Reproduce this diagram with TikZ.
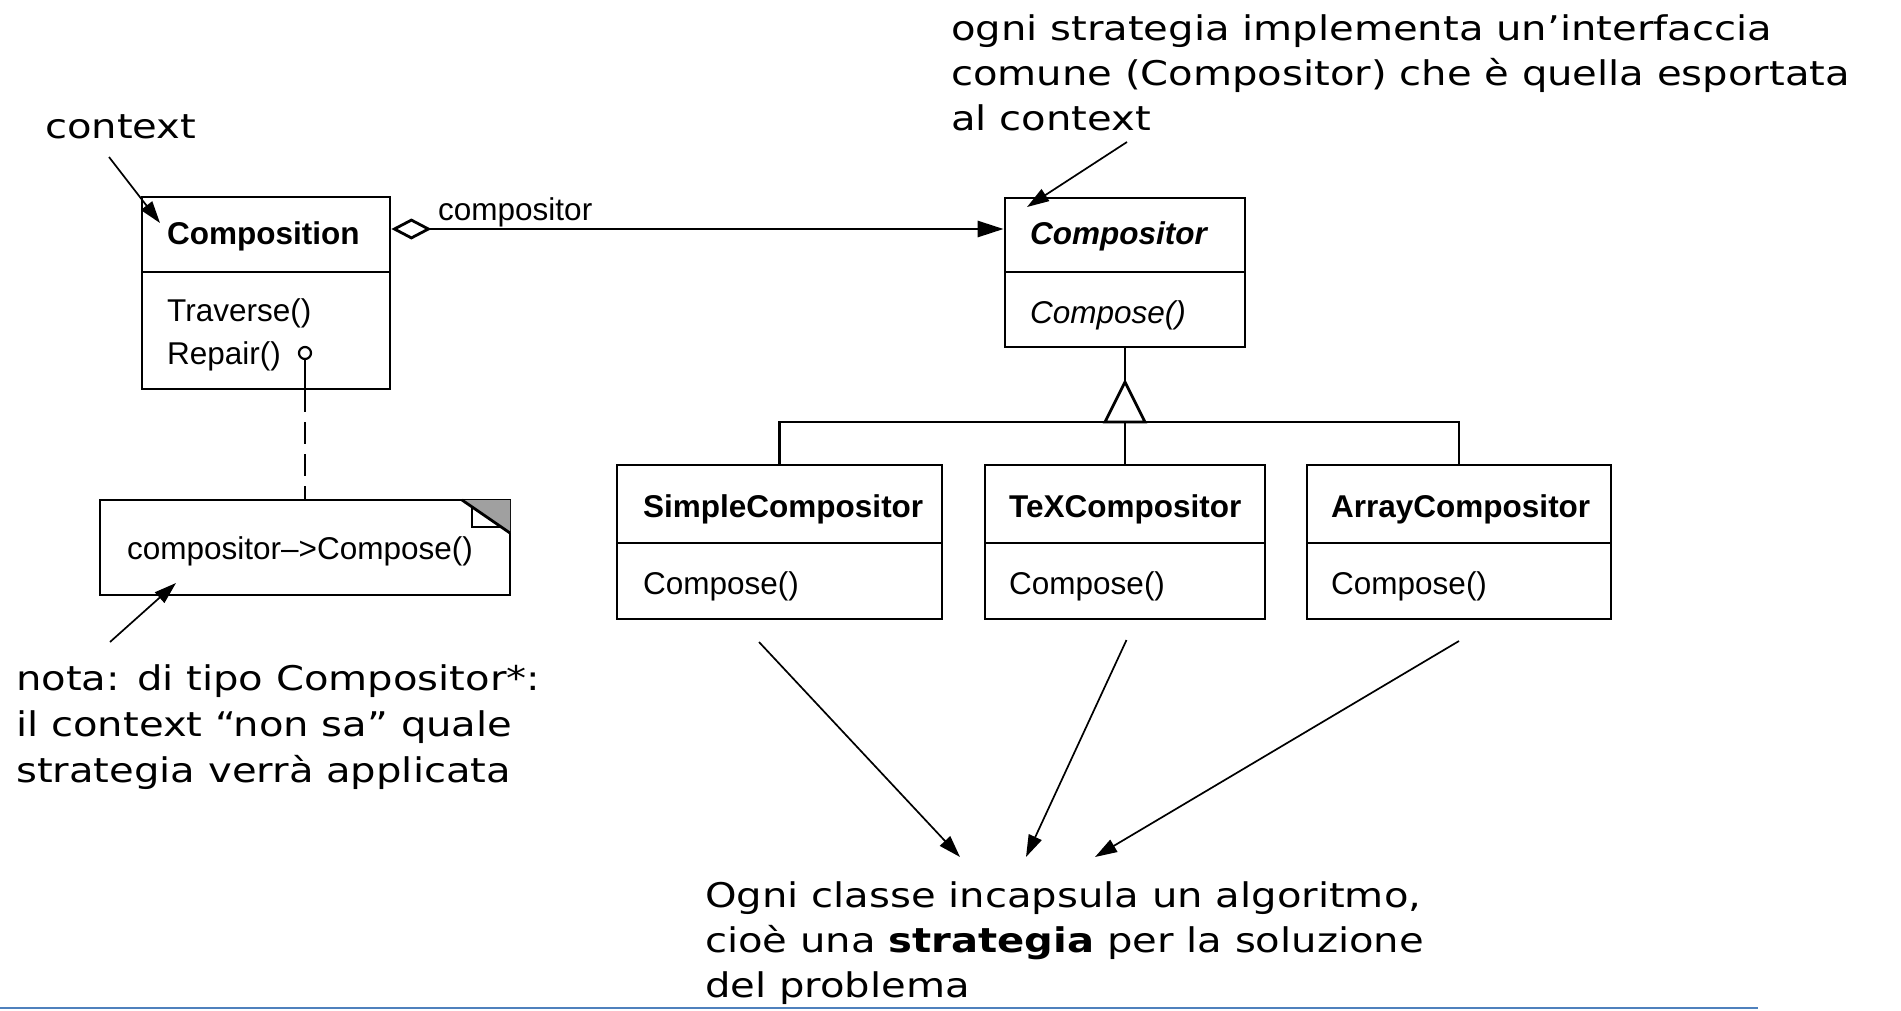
\documentclass[tikz,border=0pt]{standalone}
\usepackage{fontspec}
\setmainfont{Liberation Sans}
\newfontfamily\bigf[FakeStretch=1.18]{DejaVu Sans}
\usetikzlibrary{arrows.meta}
\definecolor{slideblue}{RGB}{79,129,189}
\definecolor{foldgray}{RGB}{160,160,160}
\begin{document}
\begin{tikzpicture}[x=1pt,y=-1pt,
  umlbox/.style={draw, line width=2.8pt, rectangle, inner sep=0pt},
  umlline/.style={line width=2.8pt},
  lbl/.style={font=\fontsize{31.5}{36}\selectfont, inner sep=0pt, anchor=base west},
  big/.style={font=\bigf\fontsize{34}{45}\selectfont, inner sep=0pt, anchor=base west},
  ann/.style={line width=1.7pt, -{Triangle[length=22pt,width=14pt]}},
]
\fill[white] (0,0) rectangle (1901,1010);
\useasboundingbox (0,0) rectangle (1901,1010);

% ---- Composition (context) ----
\node[umlbox, minimum width=248pt, minimum height=192pt] (comp) at (266,293) {};
\draw[umlline] (142,272) -- (390,272);
\node[lbl] (compT) at (167,244) {\textbf{Composition}};
\node[lbl] (compM1) at (167,321) {Traverse()};
\node[lbl] (compM2) at (167,364) {Repair()};
\node[circle, draw, line width=2.2pt, minimum size=12pt, inner sep=0pt] (rep) at (305,353) {};

% ---- Compositor (strategy) ----
\node[umlbox, minimum width=240pt, minimum height=149pt] (ctor) at (1125,272.5) {};
\draw[umlline] (1005,272) -- (1245,272);
\node[lbl] (ctorT) at (1030,244) {\textbf{\textit{Compositor}}};
\node[lbl] (ctorM) at (1030,323) {\textit{Compose()}};

% ---- concrete strategies ----
\node[umlbox, minimum width=325pt, minimum height=154pt] (simple) at (779.5,542) {};
\node[umlbox, minimum width=280pt, minimum height=154pt] (tex) at (1125,542) {};
\node[umlbox, minimum width=304pt, minimum height=154pt] (array) at (1459,542) {};
\draw[umlline] (617,543) -- (942,543);
\draw[umlline] (985,543) -- (1265,543);
\draw[umlline] (1307,543) -- (1611,543);
\node[lbl] (simpleT) at (643,517) {\textbf{SimpleCompositor}};
\node[lbl] (simpleM) at (643,594) {Compose()};
\node[lbl] (texT) at (1009,517) {\textbf{TeXCompositor}};
\node[lbl] (texM) at (1009,594) {Compose()};
\node[lbl] (arrayT) at (1331,517) {\textbf{ArrayCompositor}};
\node[lbl] (arrayM) at (1331,594) {Compose()};

% ---- inheritance ----
\coordinate (apex) at (1125,382);
\coordinate (bar) at (1125,422);
\draw[umlline] (ctor.south) -- (apex);
\draw[umlline] (simple.north) |- (bar);
\draw[umlline] (array.north) |- (bar);
\draw[umlline] (tex.north) -- (bar);
\draw[umlline, fill=white, line join=miter] (apex) -- (1105,422) -- (1145,422) -- cycle;

% ---- aggregation ----
\draw[umlline, {Diamond[open,length=40pt,width=21pt]}-{Triangle[length=26pt,width=16pt]}]
  (comp.east |- 0,229) -- (ctor.west |- 0,229);
\node[lbl] (aggl) at (438,220) {compositor};

% ---- note ----
\node[umlbox, minimum width=410pt, minimum height=95pt] (note) at (305,547.5) {};
\fill[foldgray] (462,500) -- (510,500) -- (510,533) -- cycle;
\draw[umlline] (462,500) -- (510,533);
\draw[line width=2.4pt] (472,507) -- (472,527) -- (501,527);
\node[lbl, anchor=base] (notetxt) at (300,559) {compositor–>Compose()};
\draw[umlline] (rep.south) -- (rep.south |- comp.south);
\draw[umlline, dash pattern=on 22pt off 10pt] (rep.south |- comp.south) -- (note.north);

% ---- annotations ----
\node[big] (ctx) at (45,138) {context};
\coordinate (ctxs) at (109,157);
\coordinate (ctxe) at (160,223);
\draw[ann] (ctxs) -- (ctxe);

\node[big] (top1) at (951,40) {ogni strategia implementa un’interfaccia};
\node[big] (top2) at (951,85) {comune (Compositor) che è quella esportata};
\node[big] (top3) at (951,130) {al context};
\coordinate (tops) at (1127,142);
\coordinate (tope) at (1027,207);
\draw[ann] (tops) -- (tope);

\node[big] (nt1) at (16,690) {nota: di tipo Compositor*:};
\node[big] (nt2) at (16,736) {il context “non sa” quale};
\node[big] (nt3) at (16,782) {strategia verrà applicata};
\coordinate (nts) at (110,642);
\coordinate (nte) at (176,583);
\draw[ann] (nts) -- (nte);

\node[big] (b1) at (705,907) {Ogni classe incapsula un algoritmo,};
\node[big] (b2) at (705,952) {cioè una \textbf{strategia} per la soluzione};
\node[big] (b3) at (705,997) {del problema};
\coordinate (s1) at (759,642);
\coordinate (e1) at (960,857);
\coordinate (s2) at (1126.5,640);
\coordinate (e2) at (1026,857);
\coordinate (s3) at (1459,641);
\coordinate (e3) at (1095,857);
\draw[ann] (s1) -- (e1);
\draw[ann] (s2) -- (e2);
\draw[ann] (s3) -- (e3);

% ---- slide rule ----
\draw[line width=2pt, slideblue] (0,1008) -- (1758,1008);
\end{tikzpicture}
\end{document}
